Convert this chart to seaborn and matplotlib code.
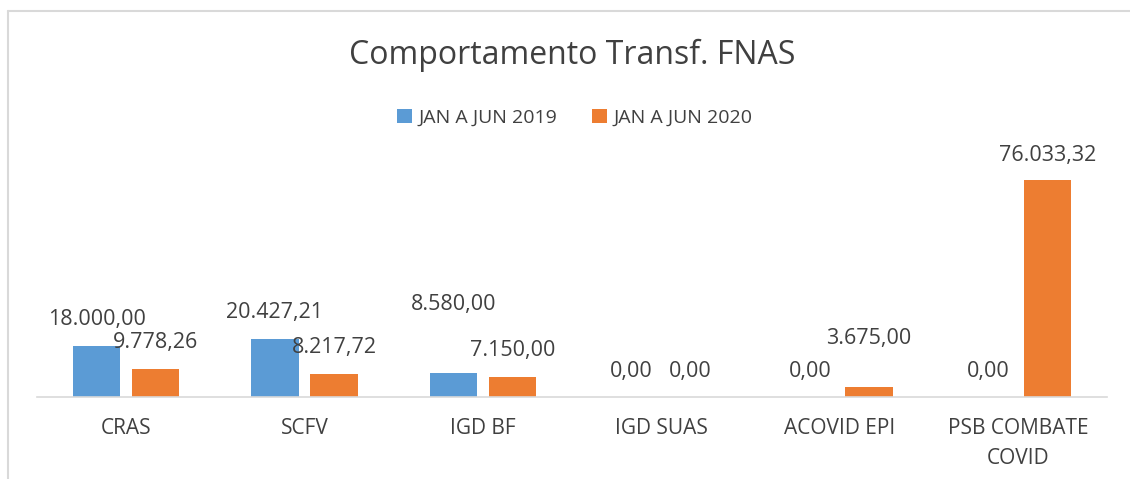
import matplotlib
matplotlib.use("Agg")
import matplotlib.pyplot as plt
import seaborn as sns
import pandas as pd
from matplotlib.lines import Line2D

categories = ["CRAS", "SCFV", "IGD BF", "IGD SUAS", "ACOVID EPI", "PSB COMBATE\nCOVID"]
series_names = ["JAN A JUN 2019", "JAN A JUN 2020"]
values_2019 = [18000.00, 20427.21, 8580.00, 0.00, 0.00, 0.00]
values_2020 = [9778.26, 8217.72, 7150.00, 0.00, 3675.00, 76033.32]
title = "Comportamento Transf. FNAS"

# label vertical offsets in pixels above bar top (style, per series)
label_offsets_2019 = [26, 26, 68, 25, 25, 25]
label_offsets_2020 = [27, 26, 26, 25, 48, 25]

colors = ["#5B9BD5", "#ED7D31"]
text_color = "#404040"

df = pd.DataFrame({
    "cat": categories * 2,
    "serie": [series_names[0]] * len(categories) + [series_names[1]] * len(categories),
    "val": values_2019 + values_2020,
})

sns.set_theme(style="white")
plt.rcParams["font.family"] = ["Open Sans", "DejaVu Sans"]

fig = plt.figure(figsize=(11.3, 4.79), dpi=100)
W, H = 1130, 479
ax = fig.add_axes([37 / W, 82 / H, (1107 - 37) / W, 228.3 / H])

sns.barplot(data=df, x="cat", y="val", hue="serie", hue_order=series_names,
            palette=colors, width=0.663, gap=0.2, ax=ax, legend=False,
            saturation=1, edgecolor="none", linewidth=0)

ax.set_ylim(0, 80000)
ax.set_xlim(-0.5, len(categories) - 0.5)
ax.set_xlabel("")
ax.set_ylabel("")
ax.set_yticks([])
for s in ["top", "right", "left"]:
    ax.spines[s].set_visible(False)
ax.spines["bottom"].set_color("#D9D9D9")
ax.spines["bottom"].set_linewidth(1.2)
ax.tick_params(axis="x", length=0, pad=15, labelsize=15, labelcolor=text_color)
for lbl in ax.get_xticklabels():
    lbl.set_linespacing(1.6)

def fmt(v):
    s = f"{v:,.2f}"
    return s.replace(",", "X").replace(".", ",").replace("X", ".")

offsets = [label_offsets_2019, label_offsets_2020]
for ci, cont in enumerate(ax.containers):
    for bi, bar in enumerate(cont.patches):
        xc = bar.get_x() + bar.get_width() / 2
        h = bar.get_height()
        ax.annotate(fmt(h), xy=(xc, h), xytext=(0, offsets[ci][bi]),
                    textcoords="offset pixels", ha="center", va="center",
                    fontsize=15.5, color=text_color, annotation_clip=False)

handles = [cont.patches[0] for cont in ax.containers]
fig.legend(handles, series_names, loc="center", bbox_to_anchor=(575 / W, 1 - 118 / H),
           ncol=2, frameon=False, fontsize=14, handlelength=0.75, handleheight=0.75,
           handletextpad=0.35, columnspacing=1.8, labelcolor=text_color)

fig.text(572 / W, 1 - 55 / H, title, ha="center", va="center", fontsize=23, color=text_color)

# chart area border (partially visible)
fig.add_artist(Line2D([8 / W, 8 / W], [0, 1 - 11 / H], color="#D9D9D9", lw=1.5, transform=fig.transFigure))
fig.add_artist(Line2D([8 / W, 1], [1 - 11 / H, 1 - 11 / H], color="#D9D9D9", lw=1.5, transform=fig.transFigure))

fig.savefig("out.png", dpi=100, facecolor="white")
